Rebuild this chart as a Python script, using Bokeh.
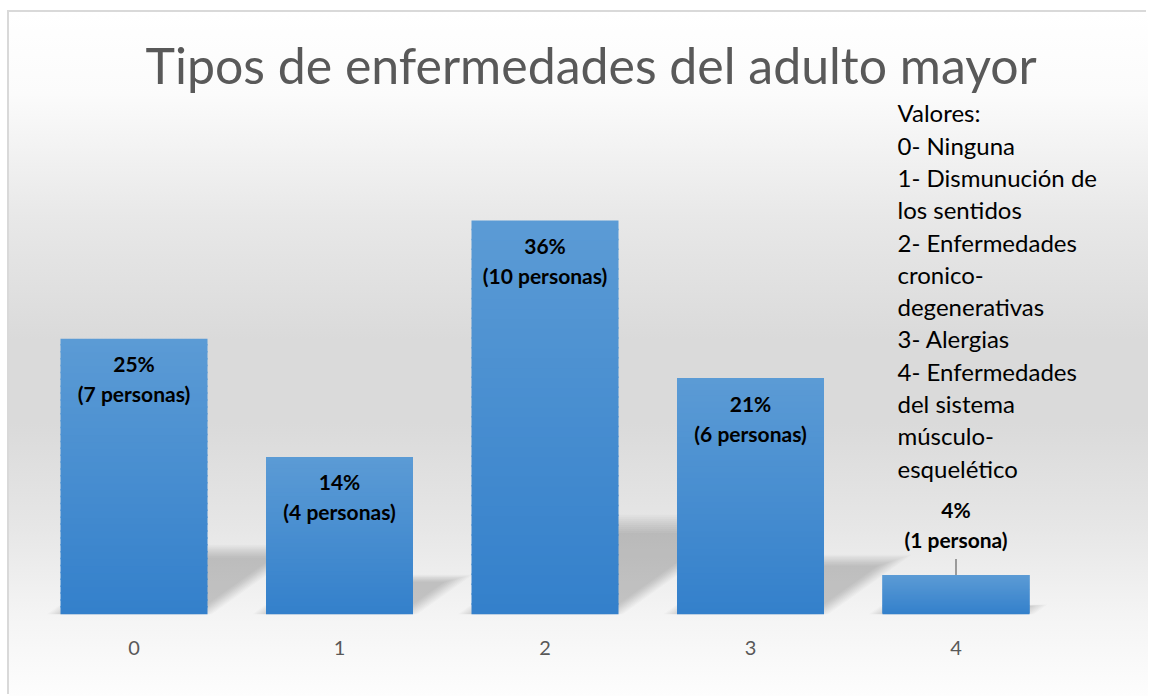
from bokeh.plotting import figure
from bokeh.models import Range1d, FixedTicker, ColumnDataSource
from bokeh.core.properties import value
from bokeh.embed import file_html
from bokeh.resources import INLINE

# ---- data -------------------------------------------------------------
categories = ["0", "1", "2", "3", "4"]
personas = [7, 4, 10, 6, 1]
porcentajes = [25, 14, 36, 21, 4]
title_text = "Tipos de enfermedades del adulto mayor"
legend_lines = [
    "Valores:",
    "0- Ninguna",
    "1- Dismunución de",
    "los sentidos",
    "2- Enfermedades",
    "cronico-",
    "degenerativas",
    "3- Alergias",
    "4- Enfermedades",
    "del sistema",
    "músculo-",
    "esquelético",
]

# ---- layout constants (page pixels) ------------------------------------
OX, OY = 9, 12                 # figure origin on page
W, H = 1139, 684
PX_X = 205.5                   # pixels per category
PX_Y = 39.4                    # pixels per persona
FRAME_L, FRAME_R = 10 - OX, 1142 - OX
FRAME_T, FRAME_B = 96 - OY, 614 - OY
CAT0 = 133.5 - OX
x_start = (FRAME_L - CAT0) / PX_X
x_end = x_start + (FRAME_R - FRAME_L) / PX_X
y_end = (FRAME_B - FRAME_T) / PX_Y
BAR_W = 147 / PX_X
TXT_FIX = 10                   # baseline correction for text glyphs (px)

p = figure(width=W, height=H, output_backend="svg", toolbar_location=None,
           x_range=Range1d(x_start, x_end), y_range=Range1d(0, y_end),
           y_axis_location=None,
           min_border_left=FRAME_L, min_border_right=W - FRAME_R,
           min_border_top=FRAME_T, min_border_bottom=H - FRAME_B)
p.margin = (OY, 0, 0, OX)
p.background_fill_alpha = 0
p.border_fill_alpha = 0
p.outline_line_color = None
p.styles = {
    "background": "linear-gradient(to bottom, #ffffff 0%, #fbfbfb 12%, #e8e8e8 30%, "
                  "#dadada 48%, #dadada 60%, #e6e6e6 75%, #f4f4f4 88%, #fdfdfd 100%)",
    "box-shadow": "-2px -2px 0 0 #d9d9d9",
}
p.grid.visible = False

# title
p.title.text = title_text
p.title.align = "left"
p.title.offset = 145 - 10
p.title.standoff = 4
p.title.text_font = "Lato"
p.title.text_font_size = "50px"
p.title.text_font_style = "normal"
p.title.text_color = "#595959"

xs = list(range(len(categories)))

# ---- soft shadows (sheared parallelograms behind bars) -------------------
K = 10
for j in range(K):
    t = j / (K - 1)
    s = 0.9 + 0.2 * t
    e = (-14 + 18 * t) / PX_X
    sx, sy = [], []
    for x, v in zip(xs, personas):
        sh = 0.23 * v * s
        d = sh * PX_Y * 1.4 / PX_X
        left, right = x - BAR_W / 2 + e, x + BAR_W / 2 + e
        sx.append([left, right, right + d, left + d])
        sy.append([0, 0, sh, sh])
    p.patches(sx, sy, fill_color="black", fill_alpha=0.021, line_color=None)

# ---- bars with vertical gradient ----------------------------------------
N = 40
top_c = (91, 155, 213)
bot_c = (52, 128, 203)
ql, qr, qb, qt, qc = [], [], [], [], []
for x, v in zip(xs, personas):
    for k in range(N):
        f = (k + 0.5) / N
        c = tuple(int(round(bot_c[j] + (top_c[j] - bot_c[j]) * f)) for j in range(3))
        ql.append(x - BAR_W / 2)
        qr.append(x + BAR_W / 2)
        qb.append(v * k / N)
        qt.append(min(v, v * (k + 1) / N + 1.5 / PX_Y))
        qc.append("#%02x%02x%02x" % c)
p.quad(left=ql, right=qr, bottom=qb, top=qt, fill_color=qc, line_color=None)

# ---- data labels --------------------------------------------------------
inside = [v >= 3 for v in personas]
l1 = ["%d%%" % pc for pc in porcentajes]
l2 = ["(%d persona%s)" % (v, "s" if v != 1 else "") for v in personas]
lab = ColumnDataSource(dict(
    x=xs, y=personas, l1=l1, l2=l2,
    o1=[(35 if i else -56) - TXT_FIX for i in inside],
    o2=[(65 if i else -26) - TXT_FIX for i in inside],
))
for col, off in [("l1", "o1"), ("l2", "o2")]:
    p.text(x="x", y="y", text=col, y_offset=off, source=lab,
           text_font=value("Lato"), text_font_style="bold", text_font_size="21px",
           text_color="black", text_align="center", text_baseline="alphabetic")

# leader lines for outside labels
lx = [x for x, i in zip(xs, inside) if not i]
lv = [v for v, i in zip(personas, inside) if not i]
p.segment(x0=lx, y0=lv, x1=lx, y1=[v + 16 / PX_Y for v in lv],
          line_color="#7f7f7f", line_width=1.5)

# ---- value legend text --------------------------------------------------
LX = (897 - OX - CAT0) / PX_X
base0 = (FRAME_B - (122.3 - TXT_FIX - OY)) / PX_Y
step = 32.3 / PX_Y
p.text(x=[LX] * len(legend_lines),
       y=[base0 - i * step for i in range(len(legend_lines))],
       text=legend_lines, text_font=value("Lato"), text_font_size="24px",
       text_color="black", text_align="left", text_baseline="alphabetic")

# ---- axis ----------------------------------------------------------------
ax = p.xaxis[0]
ax.ticker = FixedTicker(ticks=xs)
ax.major_label_overrides = {x: c for x, c in zip(xs, categories)}
ax.axis_line_color = None
ax.major_tick_line_color = None
ax.minor_tick_line_color = None
ax.major_label_standoff = 20
ax.major_label_text_font = "Lato"
ax.major_label_text_font_size = "20px"
ax.major_label_text_color = "#595959"

open("out.html", "w").write(file_html(p, INLINE))
